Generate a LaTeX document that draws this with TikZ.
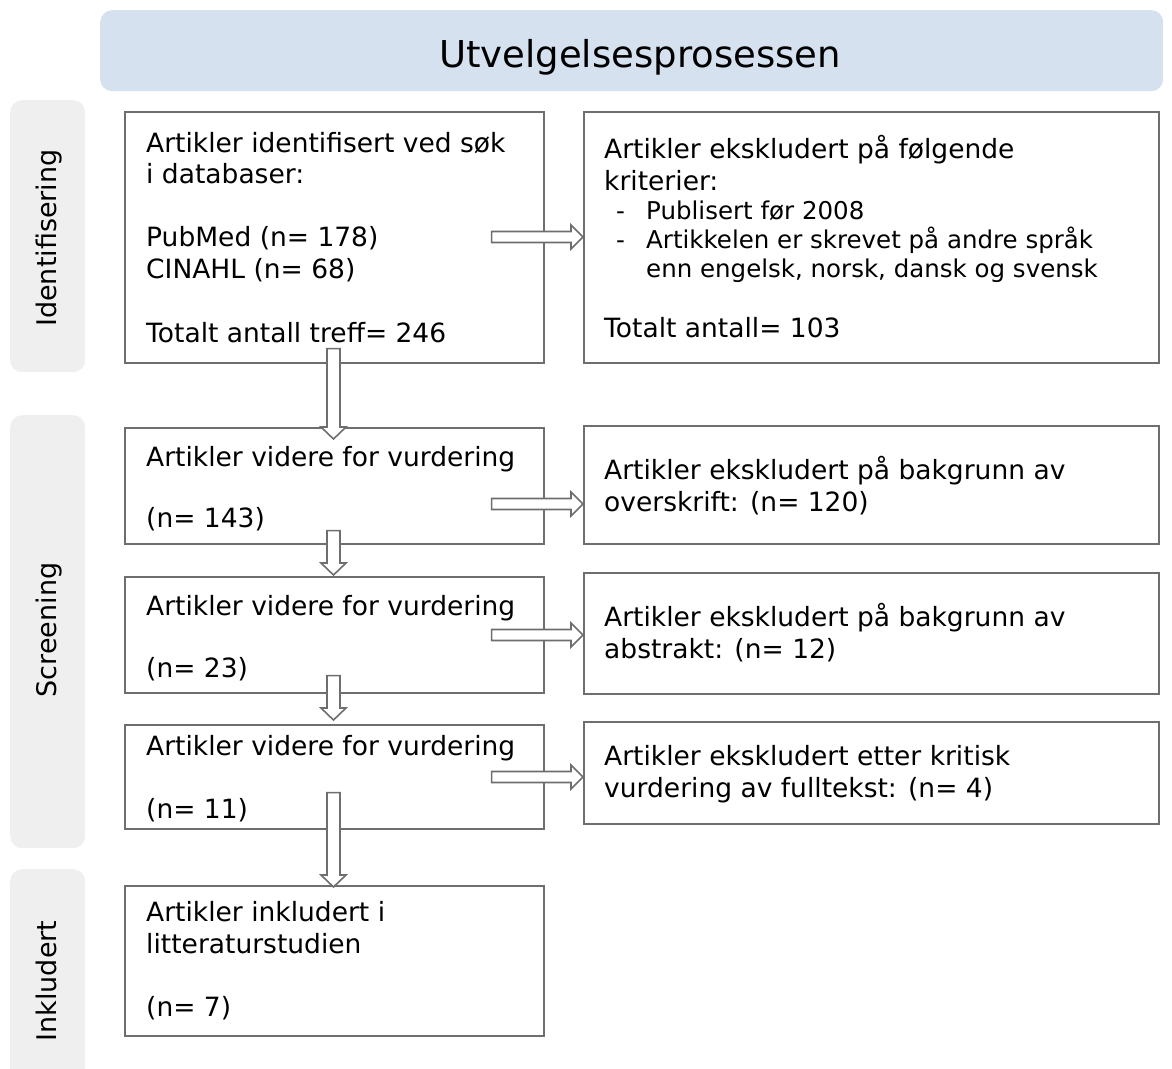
\documentclass[tikz,border=0pt]{standalone}
\usepackage{fontspec}
\setmainfont{DejaVu Sans}
\usetikzlibrary{calc}
\definecolor{hdrblue}{RGB}{213,225,239}
\definecolor{sidegray}{RGB}{239,239,239}
\definecolor{linegray}{RGB}{110,110,110}
\tikzset{
  every picture/.style={x=1pt,y=-1pt},
  boxnode/.style={draw=linegray,line width=1.6pt,fill=white,inner sep=0pt,anchor=north west},
  txt/.style={inner sep=0pt,anchor=base west,align=left,font=\fontsize{26.5}{31.5}\selectfont},
  listtxt/.style={inner sep=0pt,anchor=base west,align=left,font=\fontsize{24.5}{29}\selectfont},
  sidebox/.style={fill=sidegray,rounded corners=12pt},
  sidelbl/.style={inner sep=0pt,anchor=base,rotate=90,font=\fontsize{27}{32}\selectfont},
  blk/.style={draw=linegray,line width=1.6pt,fill=white,line join=miter}
}
\newcommand\harrow[2]{%
  \draw[blk] let \p1=(#1), \p2=(#2) in
   (\x1,\y1+5.5pt) -- (\x2-12pt,\y1+5.5pt) -- (\x2-12pt,\y1+12pt) -- (\x2,\y1)
   -- (\x2-12pt,\y1-12pt) -- (\x2-12pt,\y1-5.5pt) -- (\x1,\y1-5.5pt) -- cycle;}
\newcommand\varrow[2]{%
  \draw[blk] let \p1=(#1), \p2=(#2) in
   (\x1-6.5pt,\y1) -- (\x1-6.5pt,\y2+12pt) -- (\x1-12.5pt,\y2+12pt) -- (\x1,\y2)
   -- (\x1+12.5pt,\y2+12pt) -- (\x1+6.5pt,\y2+12pt) -- (\x1+6.5pt,\y1) -- cycle;}
\begin{document}
\begin{tikzpicture}
\useasboundingbox (0,0) rectangle (1172,1068);
\clip (0,0) rectangle (1172,1068);
% header
\node[fill=hdrblue,rounded corners=12pt,minimum width=1063pt,minimum height=81pt,anchor=north west,inner sep=0pt] (hdr) at (100,10) {};
\node[inner sep=0pt,anchor=base,font=\fontsize{37}{44}\selectfont] (title) at (640,67) {Utvelgelsesprosessen};
% side labels
\node[sidebox,minimum width=75pt,minimum height=272pt,anchor=north west,inner sep=0pt] (s1) at (10,100) {};
\node[sidebox,minimum width=75pt,minimum height=433pt,anchor=north west,inner sep=0pt] (s2) at (10,415) {};
\node[sidebox,minimum width=75pt,minimum height=225pt,anchor=north west,inner sep=0pt] (s3) at (10,869) {};
\node[sidelbl] (s1t) at (56,238) {Identifisering};
\node[sidelbl] (s2t) at (56,630) {Screening};
\node[sidelbl] (s3t) at (56,981) {Inkludert};
% left boxes
\node[boxnode,minimum width=419pt,minimum height=251pt] (b1) at (124,111) {};
\node[boxnode,minimum width=419pt,minimum height=116pt] (b2) at (124,427) {};
\node[boxnode,minimum width=419pt,minimum height=116pt] (b3) at (124,576) {};
\node[boxnode,minimum width=419pt,minimum height=104pt] (b4) at (124,724) {};
\node[boxnode,minimum width=419pt,minimum height=150pt] (b5) at (124,885) {};
% right boxes
\node[boxnode,minimum width=575pt,minimum height=251pt] (r1) at (583,111) {};
\node[boxnode,minimum width=575pt,minimum height=118pt] (r2) at (583,425) {};
\node[boxnode,minimum width=575pt,minimum height=121pt] (r3) at (583,572) {};
\node[boxnode,minimum width=575pt,minimum height=102pt] (r4) at (583,721) {};
% texts left (anchored at the baseline of the last line)
\node[txt] (b1t) at (146,342) {Artikler identifisert ved søk\\i databaser:\\[31.5pt]PubMed (n= 178)\\CINAHL (n= 68)\\[32.5pt]Totalt antall treff= 246};
\node[txt] (b2t) at (146,527) {Artikler videre for vurdering\\[29.5pt](n= 143)};
\node[txt] (b3t) at (146,677) {Artikler videre for vurdering\\[30.5pt](n= 23)};
\node[txt] (b4t) at (146,818) {Artikler videre for vurdering\\[31.5pt](n= 11)};
\node[txt] (b5t) at (146,1016) {Artikler inkludert i\\litteraturstudien\\[31.5pt](n= 7)};
% texts right
\node[txt] (r1t) at (604,190) {Artikler ekskludert på følgende\\kriterier:};
\node[listtxt] (r1l) at (616,277) {\makebox[30pt][l]{-}Publisert før 2008\\\makebox[30pt][l]{-}Artikkelen er skrevet på andre språk\\\hspace*{30pt}enn engelsk, norsk, dansk og svensk};
\node[txt] (r1s) at (604,337) {Totalt antall= 103};
\node[txt] (r2t) at (604,511) {Artikler ekskludert på bakgrunn av\\overskrift: (n= 120)};
\node[txt] (r3t) at (604,658) {Artikler ekskludert på bakgrunn av\\abstrakt: (n= 12)};
\node[txt] (r4t) at (604,797) {Artikler ekskludert etter kritisk\\vurdering av fulltekst: (n= 4)};
% coordinates for arrows
\coordinate (h1s) at ($(b1.north east)+(-53,126)$);
\coordinate (h2s) at ($(b2.north east)+(-53,77)$);
\coordinate (h3s) at ($(b3.north east)+(-53,59)$);
\coordinate (h4s) at ($(b4.north east)+(-53,53)$);
\coordinate (h1e) at (r1.west |- h1s);
\coordinate (h2e) at (r2.west |- h2s);
\coordinate (h3e) at (r3.west |- h3s);
\coordinate (h4e) at (r4.west |- h4s);
\harrow{h1s}{h1e}
\harrow{h2s}{h2e}
\harrow{h3s}{h3e}
\harrow{h4s}{h4e}
\coordinate (v1s) at ($(b1.south west)+(209.5,-15)$);
\coordinate (v1e) at ($(b2.north west)+(209.5,12)$);
\coordinate (v2s) at ($(b2.south west)+(209.5,-14)$);
\coordinate (v2e) at ($(b3.north west)+(209.5,-1)$);
\coordinate (v3s) at ($(b3.south west)+(209.5,-18)$);
\coordinate (v3e) at ($(b4.north west)+(209.5,-4)$);
\coordinate (v4s) at ($(b4.south west)+(209.5,-37)$);
\coordinate (v4e) at ($(b5.north west)+(209.5,2)$);
\varrow{v1s}{v1e}
\varrow{v2s}{v2e}
\varrow{v3s}{v3e}
\varrow{v4s}{v4e}
\end{tikzpicture}
\end{document}
